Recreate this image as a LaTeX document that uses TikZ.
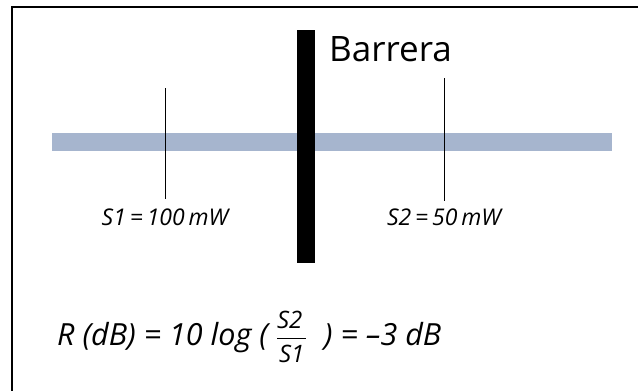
\documentclass[tikz,border=0pt]{standalone}
\usepackage{amsmath}
\usepackage{fontspec}
\setmainfont{Open Sans}
\usetikzlibrary{positioning, calc}
\definecolor{haz}{RGB}{166,181,206}

\begin{document}
\begin{tikzpicture}[x=1pt, y=-1pt,
    barra/.style={fill=black, inner sep=0pt, minimum width=18pt, minimum height=233pt},
    rayo/.style={fill=haz, inner sep=0pt, minimum width=560pt, minimum height=18pt},
    marca/.style={line width=1pt},
    etiq/.style={font=\fontsize{23}{26}\selectfont\itshape, inner sep=0pt},
    formula/.style={font=\fontsize{30.5}{34}\selectfont\itshape, inner sep=0pt}
]
    \useasboundingbox (0,0) rectangle (638,391);
    \clip (0,0) rectangle (638,391);
    \draw[line width=1.2pt] (12,7) rectangle (660,420);
    \node[rayo] (haz) at (332,142) {};
    \node[barra] (barrera) at (306,146.5) {};
    \node[anchor=base west, inner sep=0pt, font=\fontsize{35}{40}\selectfont] (titulo) at (329,61) {Barrera};
    % marcas de potencia
    \coordinate (s1top) at (165,88);
    \coordinate (s1bot) at (165,199);
    \coordinate (s2top) at (444,78);
    \coordinate (s2bot) at (444,201);
    \draw[marca] (s1top) -- (s1bot);
    \draw[marca] (s2top) -- (s2bot);
    \node[etiq, below=10pt of s1bot] (s1) {S1\,=\,100\,mW};
    \node[etiq, below=8pt of s2bot] (s2) {S2\,=\,50\,mW};
    \node[formula, anchor=base west] (rdb) at (57,345)
        {R (dB) = 10 log ( $\dfrac{\text{\fontsize{24}{26}\selectfont\itshape S2\,}}{\text{\fontsize{24}{26}\selectfont\itshape S1}}$\; ) = –3 dB};
\end{tikzpicture}
\end{document}
